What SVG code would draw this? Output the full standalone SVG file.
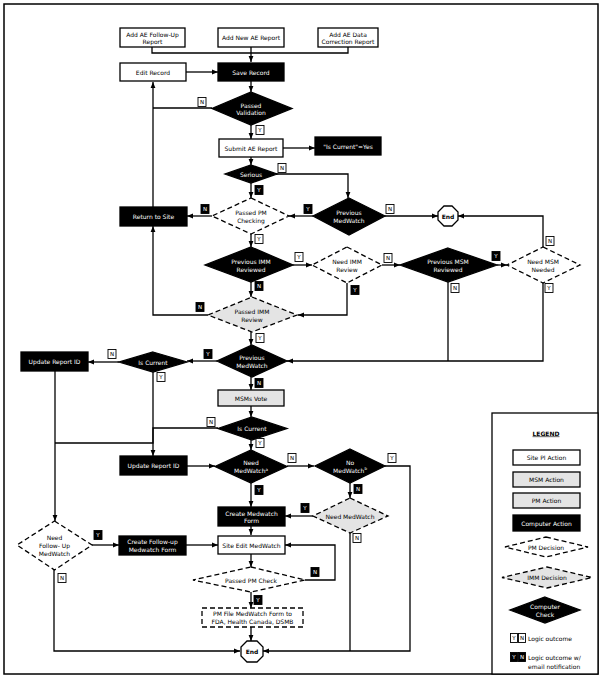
<svg xmlns="http://www.w3.org/2000/svg" width="603" height="679" viewBox="0 0 603 679">
<style>
text{font-family:"DejaVu Sans","Liberation Sans",sans-serif;font-size:6px;text-anchor:middle;dominant-baseline:central}
.w{fill:#fff;stroke:#000;stroke-width:1.3}
.b{fill:#000;stroke:#000;stroke-width:1.3}
.g{fill:#e4e4e4;stroke:#000;stroke-width:1.3}
.dw{fill:#fff;stroke:#000;stroke-width:1.3;stroke-dasharray:5,3}
.dg{fill:#e4e4e4;stroke:#000;stroke-width:1.3;stroke-dasharray:5,3}
.wt{fill:#fff}
.c path{fill:none;stroke:#000;stroke-width:1.3}
.lw rect{fill:#fff;stroke:#000;stroke-width:0.9}
.lb rect{fill:#000;stroke:#000;stroke-width:0.9}
.lw text{font-size:5.5px}
.lb text{font-size:5.5px;fill:#fff}
</style>
<defs>
<marker id="a" viewBox="0 0 10 10" refX="10" refY="5" markerWidth="6" markerHeight="6" markerUnits="userSpaceOnUse" orient="auto"><path d="M0,1L10,5L0,9z" fill="#000"/></marker>
</defs>
<rect x="4" y="4" width="594" height="670" fill="#fff" stroke="#000" stroke-width="1.5"/>

<g class="c" id="connectors">
<path d="M152,47V53H348V47"/>
<path d="M251,47V62" marker-end="url(#a)"/>
<path d="M186,72H218" marker-end="url(#a)"/>
<path d="M251,81V92" marker-end="url(#a)"/>
<path d="M212,108H153"/>
<path d="M153,207V82" marker-end="url(#a)"/>
<path d="M251,125V139" marker-end="url(#a)"/>
<path d="M283,148H315" marker-end="url(#a)"/>
<path d="M251,157V165" marker-end="url(#a)"/>
<path d="M276,174H348V198" marker-end="url(#a)"/>
<path d="M251,183V198" marker-end="url(#a)"/>
<path d="M212,216H187" marker-end="url(#a)"/>
<path d="M313,216H289" marker-end="url(#a)"/>
<path d="M385,216H438" marker-end="url(#a)"/>
<path d="M543,247V216H458" marker-end="url(#a)"/>
<path d="M251,234V247" marker-end="url(#a)"/>
<path d="M293,265H312" marker-end="url(#a)"/>
<path d="M382,265H400" marker-end="url(#a)"/>
<path d="M497,265H507" marker-end="url(#a)"/>
<path d="M347,283V315H298" marker-end="url(#a)"/>
<path d="M251,282V297" marker-end="url(#a)"/>
<path d="M208,315H153V226" marker-end="url(#a)"/>
<path d="M251,332V345" marker-end="url(#a)"/>
<path d="M448,282V361"/>
<path d="M543,283V361H287" marker-end="url(#a)"/>
<path d="M217,361H187" marker-end="url(#a)"/>
<path d="M119,362H88" marker-end="url(#a)"/>
<path d="M55,371V521" marker-end="url(#a)"/>
<path d="M153,372V443H55"/>
<path d="M251,377V390" marker-end="url(#a)"/>
<path d="M251,406V417" marker-end="url(#a)"/>
<path d="M218,428H153V456" marker-end="url(#a)"/>
<path d="M251,440V450" marker-end="url(#a)"/>
<path d="M187,466H215" marker-end="url(#a)"/>
<path d="M287,466H314" marker-end="url(#a)"/>
<path d="M385,466H410V651H263" marker-end="url(#a)"/>
<path d="M350,483V498" marker-end="url(#a)"/>
<path d="M313,516H285" marker-end="url(#a)"/>
<path d="M350,533V651"/>
<path d="M251,483V507" marker-end="url(#a)"/>
<path d="M251,526V535" marker-end="url(#a)"/>
<path d="M92,545H119" marker-end="url(#a)"/>
<path d="M186,545H218" marker-end="url(#a)"/>
<path d="M251,554V567" marker-end="url(#a)"/>
<path d="M305,580H335V545H285" marker-end="url(#a)"/>
<path d="M251,592V608" marker-end="url(#a)"/>
<path d="M251,627V641" marker-end="url(#a)"/>
<path d="M54,570V651H240" marker-end="url(#a)"/>
</g>

<g id="add-followup"><rect class="w" x="120" y="28" width="65" height="19"/><text x="152.5" y="34">Add AE Follow-Up</text><text x="152.5" y="41.5">Report</text></g>
<g id="add-new"><rect class="w" x="218" y="28" width="66" height="19"/><text x="251" y="37.5">Add New AE Report</text></g>
<g id="add-correction"><rect class="w" x="318" y="28" width="60" height="19"/><text x="348" y="34">Add AE Data</text><text x="348" y="41.5">Correction Report</text></g>
<g id="edit-record"><rect class="w" x="120" y="63" width="66" height="18"/><text x="153" y="72">Edit Record</text></g>
<g id="save-record"><rect class="b" x="218" y="63" width="66" height="18"/><text class="wt" x="251" y="72">Save Record</text></g>
<g id="passed-validation"><polygon class="b" points="251,92 292,108.5 251,125 212,108.5"/><text class="wt" x="251" y="105">Passed</text><text class="wt" x="251" y="112.5">Validation</text></g>
<g id="submit-ae"><rect class="w" x="219" y="139" width="64" height="18"/><text x="251" y="148">Submit AE Report</text></g>
<g id="is-current-yes"><rect class="b" x="315" y="137" width="66" height="18"/><text class="wt" x="348" y="146">"Is Current"=Yes</text></g>
<g id="serious"><polygon class="b" points="251,165 277,174 251,183 225,174"/><text class="wt" x="251" y="174">Serious</text></g>
<g id="passed-pm-checking"><polygon class="dw" points="251,198 289,216 251,234 212,216"/><text x="251" y="212">Passed PM</text><text x="251" y="220">Checking</text></g>
<g id="return-to-site"><rect class="b" x="120" y="207" width="67" height="19"/><text class="wt" x="153.5" y="216.5">Return to Site</text></g>
<g id="previous-medwatch-1"><polygon class="b" points="349,198 385,216 349,235 313,216"/><text class="wt" x="349" y="212">Previous</text><text class="wt" x="349" y="220">MedWatch</text></g>
<g id="end-1"><polygon class="w" points="444,206 452,206 458,212 458,220 452,226 444,226 438,220 438,212"/><text x="448" y="216" style="font-weight:bold">End</text></g>
<g id="previous-imm"><polygon class="b" points="251,247 293,265 251,282 205,265"/><text class="wt" x="251" y="261">Previous IMM</text><text class="wt" x="251" y="269">Reviewed</text></g>
<g id="need-imm"><polygon class="dw" points="347,247 382,265 347,283 312,265"/><text x="347" y="261">Need IMM</text><text x="347" y="269">Review</text></g>
<g id="previous-msm"><polygon class="b" points="448,248 497,265 448,282 400,265"/><text class="wt" x="448" y="261">Previous MSM</text><text class="wt" x="448" y="269">Reviewed</text></g>
<g id="need-msm"><polygon class="dw" points="543,247 580,265 543,283 507,265"/><text x="543" y="261">Need MSM</text><text x="543" y="269">Needed</text></g>
<g id="passed-imm"><polygon class="dg" points="252,297 297,315 252,332 208,315"/><text x="252" y="311">Passed IMM</text><text x="252" y="319">Review</text></g>
<g id="previous-medwatch-2"><polygon class="b" points="252,345 287,361 252,377 217,361"/><text class="wt" x="252" y="357">Previous</text><text class="wt" x="252" y="365">MedWatch</text></g>
<g id="is-current-1"><polygon class="b" points="153,352 187,362 153,372 119,362"/><text class="wt" x="153" y="362">Is Current</text></g>
<g id="update-report-1"><rect class="b" x="21" y="352" width="67" height="19"/><text class="wt" x="54.5" y="361.5">Update Report ID</text></g>
<g id="msms-vote"><rect class="g" x="218" y="390" width="66" height="16"/><text x="251" y="398">MSMs Vote</text></g>
<g id="is-current-2"><polygon class="b" points="252,417 287,428.5 252,440 218,428.5"/><text class="wt" x="252" y="428.5">Is Current</text></g>
<g id="update-report-2"><rect class="b" x="120" y="456" width="67" height="19"/><text class="wt" x="153.5" y="465.5">Update Report ID</text></g>
<g id="need-medwatch-a"><polygon class="b" points="251,450 287,466.5 251,483 215,466.5"/><text class="wt" x="251" y="462.5">Need</text><text class="wt" x="251" y="470.5">MedWatch<tspan font-size="4" dy="-2">a</tspan></text></g>
<g id="no-medwatch-b"><polygon class="b" points="350,449 385,466 350,483 315,466"/><text class="wt" x="350" y="462">No</text><text class="wt" x="350" y="470">MedWatch<tspan font-size="4" dy="-2">b</tspan></text></g>
<g id="need-medwatch-gray"><polygon class="dg" points="350,498 388,516 350,533 313,516"/><text x="350" y="516">Need MedWatch</text></g>
<g id="create-medwatch"><rect class="b" x="218" y="507" width="67" height="19"/><text class="wt" x="251.5" y="513">Create Medwatch</text><text class="wt" x="251.5" y="520.5">Form</text></g>
<g id="need-followup"><polygon class="dw" points="54.5,521 92,545 54.5,570 17,545"/><text x="54.5" y="537">Need</text><text x="54.5" y="545">Follow- Up</text><text x="54.5" y="553">MedWatch</text></g>
<g id="create-followup"><rect class="b" x="119" y="536" width="67" height="19"/><text class="wt" x="152.5" y="541.5">Create Follow-up</text><text class="wt" x="152.5" y="549">Medwatch Form</text></g>
<g id="site-edit"><rect class="w" x="218" y="536" width="67" height="18"/><text x="251.5" y="545">Site Edit MedWatch</text></g>
<g id="passed-pm-check"><polygon class="dw" points="251,567 305,580 251,592 193,580"/><text x="251" y="580">Passed PM Check</text></g>
<g id="pm-file"><rect class="dw" x="202" y="608" width="101" height="19"/><text x="252.5" y="613.5">PM File MedWatch Form to</text><text x="252.5" y="621.5">FDA, Health Canada, DSMB</text></g>
<g id="end-2"><polygon class="w" points="247,641 257,641 263,647 263,656 257,662 247,662 241,656 241,647"/><text x="252" y="651.5" style="font-weight:bold">End</text></g>

<g id="labels">
<g class="lw"><rect x="198" y="97.5" width="8" height="9"/><text x="202" y="102">N</text></g>
<g class="lw"><rect x="256" y="125.5" width="8" height="9"/><text x="260" y="130">Y</text></g>
<g class="lw"><rect x="278" y="163.5" width="8" height="9"/><text x="282" y="168">N</text></g>
<g class="lb"><rect x="255" y="185.5" width="8" height="9"/><text x="259" y="190">Y</text></g>
<g class="lb"><rect x="201" y="204.5" width="8" height="9"/><text x="205" y="209">N</text></g>
<g class="lb"><rect x="304" y="204.5" width="8" height="9"/><text x="308" y="209">Y</text></g>
<g class="lw"><rect x="386" y="204.5" width="8" height="9"/><text x="390" y="209">N</text></g>
<g class="lw"><rect x="546" y="236.5" width="8" height="9"/><text x="550" y="241">N</text></g>
<g class="lw"><rect x="255" y="234.5" width="8" height="9"/><text x="259" y="239">Y</text></g>
<g class="lw"><rect x="295" y="252.5" width="8" height="9"/><text x="299" y="257">Y</text></g>
<g class="lw"><rect x="384" y="253.5" width="8" height="9"/><text x="388" y="258">N</text></g>
<g class="lb"><rect x="492" y="251.5" width="8" height="9"/><text x="496" y="256">Y</text></g>
<g class="lw"><rect x="545" y="283.5" width="8" height="9"/><text x="549" y="288">Y</text></g>
<g class="lw"><rect x="451" y="283.5" width="8" height="9"/><text x="455" y="288">N</text></g>
<g class="lb"><rect x="351" y="285.5" width="8" height="9"/><text x="355" y="290">Y</text></g>
<g class="lb"><rect x="255" y="281.5" width="8" height="9"/><text x="259" y="286">N</text></g>
<g class="lb"><rect x="196" y="302.5" width="8" height="9"/><text x="200" y="307">N</text></g>
<g class="lw"><rect x="256" y="333.5" width="8" height="9"/><text x="260" y="338">Y</text></g>
<g class="lb"><rect x="204" y="349.5" width="8" height="9"/><text x="208" y="354">Y</text></g>
<g class="lw"><rect x="108" y="349.5" width="8" height="9"/><text x="112" y="354">N</text></g>
<g class="lw"><rect x="157" y="372.5" width="8" height="9"/><text x="161" y="377">Y</text></g>
<g class="lb"><rect x="255" y="378.5" width="8" height="9"/><text x="259" y="383">N</text></g>
<g class="lw"><rect x="207" y="417.5" width="8" height="9"/><text x="211" y="422">N</text></g>
<g class="lw"><rect x="256" y="438.5" width="8" height="9"/><text x="260" y="443">Y</text></g>
<g class="lw"><rect x="288" y="453.5" width="8" height="9"/><text x="292" y="458">N</text></g>
<g class="lw"><rect x="388" y="453.5" width="8" height="9"/><text x="392" y="458">Y</text></g>
<g class="lb"><rect x="255" y="485.5" width="8" height="9"/><text x="259" y="490">Y</text></g>
<g class="lb"><rect x="354" y="484.5" width="8" height="9"/><text x="358" y="489">N</text></g>
<g class="lb"><rect x="301" y="503.5" width="8" height="9"/><text x="305" y="508">Y</text></g>
<g class="lw"><rect x="353" y="533.5" width="8" height="9"/><text x="357" y="538">N</text></g>
<g class="lb"><rect x="94" y="530.5" width="8" height="9"/><text x="98" y="535">Y</text></g>
<g class="lw"><rect x="58" y="573.5" width="8" height="9"/><text x="62" y="578">N</text></g>
<g class="lb"><rect x="311" y="567.5" width="8" height="9"/><text x="315" y="572">N</text></g>
<g class="lb"><rect x="254" y="595.5" width="8" height="9"/><text x="258" y="600">Y</text></g>
</g>

<g id="legend">
<rect x="492" y="413" width="106" height="261" fill="#fff" stroke="#000" stroke-width="1.3"/>
<text x="546" y="433" style="font-weight:bold;text-decoration:underline">LEGEND</text>
<rect class="w" x="513" y="450" width="67" height="15"/><text x="546.5" y="457.5">Site PI Action</text>
<rect class="g" x="513" y="472" width="67" height="15"/><text x="546.5" y="479.5">MSM Action</text>
<rect class="g" x="513" y="493" width="67" height="15"/><text x="546.5" y="500.5">PM Action</text>
<rect class="b" x="513" y="515" width="67" height="16"/><text class="wt" x="546.5" y="523">Computer Action</text>
<polygon class="dw" points="546,537 588,547 546,557 505,547"/><text x="546" y="547">PM Decision</text>
<polygon class="dg" points="547,567 592,577.5 547,588 502,577.5"/><text x="547" y="577.5">IMM Decision</text>
<polygon class="b" points="545,597 580,610 545,623 510,610"/><text class="wt" x="545" y="606">Computer</text><text class="wt" x="545" y="614">Check</text>
<g class="lw"><rect x="510.5" y="633.5" width="7" height="9"/><text x="514" y="638">Y</text></g>
<g class="lw"><rect x="518.5" y="633.5" width="7" height="9"/><text x="522" y="638">N</text></g>
<text x="528" y="638" style="text-anchor:start">Logic outcome</text>
<g class="lb"><rect x="510.5" y="652.5" width="7" height="9"/><text x="514" y="657">Y</text></g>
<g class="lb"><rect x="518.5" y="652.5" width="7" height="9"/><text x="522" y="657">N</text></g>
<text x="528" y="657" style="text-anchor:start">Logic outcome w/</text>
<text x="528" y="666" style="text-anchor:start">email notification</text>
</g>
</svg>
